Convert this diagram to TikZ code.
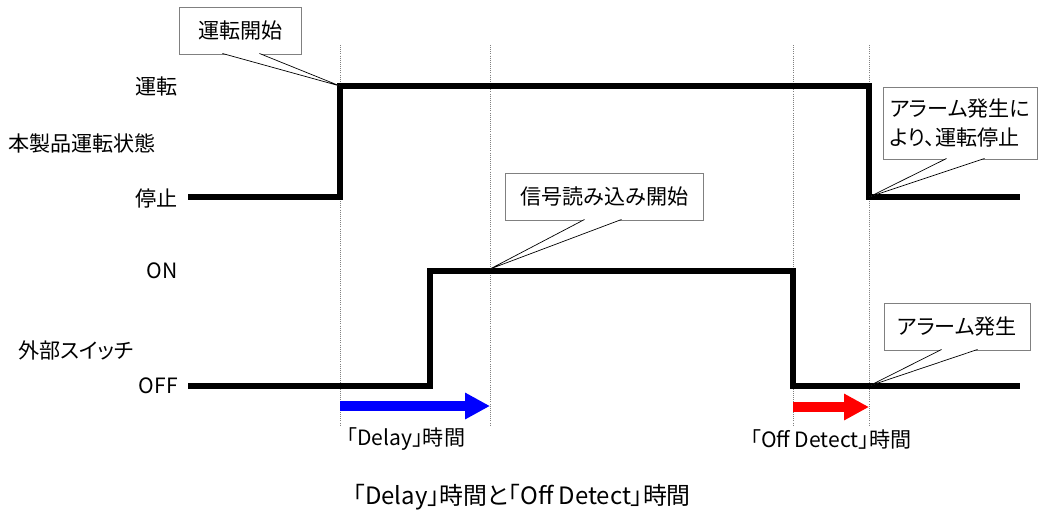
\documentclass[tikz,border=0pt]{standalone}
\usepackage{fontspec}
\setmainfont[RawFeature=+palt]{Noto Sans CJK JP}
\usetikzlibrary{arrows.meta,calc}

\tikzset{
  wave/.style={line width=3.6pt, miter limit=10},
  guide/.style={gray, densely dotted, line width=0.5pt},
  lbl/.style={font=\fontsize{15}{17}\selectfont, inner sep=0pt},
  callbox/.style={draw=gray, line width=0.7pt, fill=white, inner sep=0pt,
    font=\fontsize{15}{20}\selectfont, align=left},
  pointer/.style={black, line width=0.5pt, fill=white},
  span/.style={line width=6.6pt, -{Triangle[length=17.7pt, width=17.7pt]}}
}

\begin{document}
\begin{tikzpicture}[x=0.025cm, y=-0.025cm]
\useasboundingbox (0,0) rectangle (1044,521);

\foreach \gx in {340,490,793,869}
  \draw [guide] (\gx,45) -- (\gx,425);

\node at (178,86) [lbl, anchor=east] (run) {運転};
\node at (8,143) [lbl, anchor=west] (state) {本製品運転状態};
\node at (178,199) [lbl, anchor=east] (stop) {停止};
\node at (178,271) [lbl, anchor=east] (on) {ON};
\node at (18,350) [lbl, anchor=west] (switch) {外部スイッチ};
\node at (178,386) [lbl, anchor=east] (off) {OFF};

\draw [wave] (188,197) -- (340,197) -- (340,86) -- (869,86) -- (869,197) -- (1020,197);
\draw [wave] (188,386) -- (430,386) -- (430,271) -- (793,271) -- (793,386) -- (1020,386);

\coordinate (startpt) at (340,86);
\coordinate (readpt) at (490,269);
\coordinate (haltpt) at (869,197);
\coordinate (alarmpt) at (869,386);

\node at (240.5,30.5) [callbox, minimum width=3.025cm, minimum height=1.175cm] (cbstart) {運転開始};
\draw [pointer] ($(cbstart.south west)+(43,-1)$) -- (startpt) -- ($(cbstart.south west)+(80,-1)$);

\node at (604.5,196.5) [callbox, minimum width=4.925cm, minimum height=1.175cm] (cbread) {信号読み込み開始};
\draw [pointer] ($(cbread.south west)+(79,-1)$) -- (readpt) -- ($(cbread.south west)+(116,-1)$);

\node at (960,123) [callbox, minimum width=3.85cm, minimum height=1.8cm] (cbhalt) {アラーム発生に\\より、運転停止};
\draw [pointer] ($(cbhalt.south west)+(64,-1)$) -- (haltpt) -- ($(cbhalt.south west)+(102,-1)$);

\node at (957,326.5) [callbox, minimum width=3.65cm, minimum height=1.175cm] (cbalarm) {アラーム発生};
\draw [pointer] ($(cbalarm.south west)+(58,-1)$) -- (alarmpt) -- ($(cbalarm.south west)+(94,-1)$);

\coordinate (delaya) at (340,406);
\coordinate (delayb) at (490,406);
\draw [span, blue] (delaya) -- (delayb);
\coordinate (detecta) at (793,407);
\coordinate (detectb) at (869,407);
\draw [span, red] (detecta) -- (detectb);

\node at (406,439) [lbl] (delaytxt) {「Delay」時間};
\node at (831,439) [lbl] (detecttxt) {「Off Detect」時間};

\node at (522,497) [lbl, font=\fontsize{17}{19}\selectfont] (title) {「Delay」時間と「Off Detect」時間};
\end{tikzpicture}
\end{document}
